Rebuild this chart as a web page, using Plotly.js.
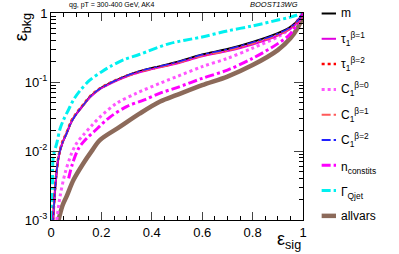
<!DOCTYPE html>
<html>
<head>
<meta charset="utf-8">
<script src="https://cdn.plot.ly/plotly-3.0.1.min.js"></script>
<style>html,body{margin:0;padding:0;background:#fff;}#chart{width:399px;height:254px;}</style>
</head>
<body>
<div id="chart"></div>
<script>
// Signal efficiency / background efficiency
const mX = [0.006, 0.009, 0.016, 0.029, 0.045, 0.062, 0.08, 0.102, 0.13, 0.155, 0.19, 0.234, 0.28, 0.327, 0.38, 0.433, 0.5, 0.6, 0.7, 0.8, 0.9, 0.95, 0.98, 1.0];
const mY = [0.0008, 0.0011, 0.0027, 0.0078, 0.013, 0.018, 0.026, 0.035, 0.047, 0.061, 0.078, 0.096, 0.115, 0.134, 0.153, 0.17, 0.195, 0.25, 0.30, 0.38, 0.51, 0.63, 0.78, 1.0];
const tau1b1Y = [0.0008, 0.0011, 0.0027, 0.0078, 0.013, 0.018, 0.026, 0.035, 0.047, 0.060, 0.077, 0.094, 0.112, 0.130, 0.147, 0.163, 0.185, 0.235, 0.28, 0.35, 0.47, 0.59, 0.75, 1.0];
const tau1b2Y = [0.0008, 0.0011, 0.0028, 0.008, 0.0135, 0.0185, 0.027, 0.036, 0.048, 0.062, 0.079, 0.097, 0.115, 0.133, 0.151, 0.167, 0.19, 0.243, 0.29, 0.365, 0.49, 0.61, 0.76, 1.0];
const c1b1Y = [0.0008, 0.0011, 0.0028, 0.008, 0.0133, 0.0183, 0.0265, 0.0355, 0.047, 0.061, 0.078, 0.096, 0.114, 0.132, 0.149, 0.165, 0.188, 0.24, 0.285, 0.36, 0.48, 0.60, 0.76, 1.0];
const c1b2Y = [0.0008, 0.0011, 0.0027, 0.0079, 0.013, 0.018, 0.026, 0.035, 0.047, 0.061, 0.078, 0.096, 0.115, 0.134, 0.153, 0.169, 0.194, 0.248, 0.297, 0.375, 0.50, 0.62, 0.77, 1.0];

const qjetX = [0.003, 0.006, 0.009, 0.023, 0.036, 0.049, 0.07, 0.089, 0.115, 0.155, 0.2, 0.234, 0.287, 0.35, 0.47, 0.6, 0.7, 0.8, 0.9, 0.95, 1.0];
const qjetY = [0.001, 0.003, 0.0083, 0.013, 0.021, 0.028, 0.04, 0.055, 0.075, 0.107, 0.14, 0.167, 0.209, 0.25, 0.36, 0.45, 0.55, 0.65, 0.79, 0.87, 1.0];

const c1b0X = [0.023, 0.036, 0.056, 0.082, 0.102, 0.128, 0.16, 0.194, 0.26, 0.34, 0.433, 0.5, 0.6, 0.7, 0.8, 0.9, 0.95, 1.0];
const c1b0Y = [0.001, 0.0022, 0.0048, 0.0093, 0.013, 0.017, 0.023, 0.031, 0.049, 0.069, 0.096, 0.12, 0.167, 0.22, 0.31, 0.45, 0.6, 1.0];

const nconX = [0.07, 0.085, 0.11, 0.14, 0.17, 0.234, 0.3, 0.37, 0.433, 0.5, 0.6, 0.7, 0.8, 0.9, 0.95, 1.0];
const nconY = [0.004, 0.0065, 0.011, 0.015, 0.019, 0.031, 0.044, 0.055, 0.069, 0.083, 0.113, 0.149, 0.22, 0.36, 0.5, 1.0];

const allX = [0.03, 0.045, 0.062, 0.089, 0.128, 0.16, 0.194, 0.274, 0.353, 0.433, 0.5, 0.6, 0.7, 0.8, 0.9, 0.95, 0.98, 1.0];
const allY = [0.001, 0.0016, 0.0022, 0.0038, 0.0066, 0.0098, 0.0144, 0.0225, 0.035, 0.052, 0.065, 0.09, 0.12, 0.176, 0.29, 0.43, 0.62, 0.9];

const names = ["m", "τ<sub>1</sub><sup>β=1</sup>", "τ<sub>1</sub><sup>β=2</sup>", "C<sub>1</sub><sup>β=0</sup>", "C<sub>1</sub><sup>β=1</sup>", "C<sub>1</sub><sup>β=2</sup>", "n<sub>constits</sub>", "Γ<sub>Qjet</sub>", "allvars"];

const xTickVals = [0, 0.2, 0.4, 0.6, 0.8, 1];
const xTickText = ["0", "0.2", "0.4", "0.6", "0.8", "1"];
const yTickVals = [0.001, 0.01, 0.1, 1];
const yTickText = ["10<sup>-3</sup>", "10<sup>-2</sup>", "10<sup>-1</sup>", "1"];
const yMinor = [];
[0.001, 0.01, 0.1].forEach(d => { for (let k = 2; k <= 9; k++) yMinor.push(k * d); });

// styles per legend index
const styles = [
  {color: '#000000', width: 2, dash: 'solid'},
  {color: '#e000e0', width: 2, dash: 'solid'},
  {color: '#ff0000', width: 2.5, dash: 'dot'},
  {color: '#ff55ff', width: 3, dash: 'dot'},
  {color: '#ff5a5a', width: 2, dash: 'dashdot'},
  {color: '#2020ff', width: 1.5, dash: 'dashdot'},
  {color: '#ff00ff', width: 3, dash: 'dashdot'},
  {color: '#00f0f0', width: 3, dash: 'dashdot'},
  {color: '#8c6a5a', width: 4.5, dash: 'solid'}
];

function tr(x, y, i) {
  const s = styles[i];
  return {x: x, y: y, type: 'scatter', mode: 'lines', name: names[i], showlegend: false,
          line: {color: s.color, width: s.width, dash: s.dash, shape: 'spline', smoothing: 0.9}, hoverinfo: 'skip'};
}

const data = [
  tr(allX, allY, 8),
  tr(qjetX, qjetY, 7),
  tr(nconX, nconY, 6),
  tr(c1b0X, c1b0Y, 3),
  tr(mX, mY, 0),
  tr(mX, tau1b1Y, 1),
  tr(mX, tau1b2Y, 2),
  tr(mX, c1b1Y, 4),
  tr(mX, c1b2Y, 5)
];

// Manual legend (layout decoration in paper coordinates)
const legTop = 0.9976, legStep = 0.1222;
const legX0 = 1.074, legX1 = 1.131, legTextX = 1.143;
const shapes = [];
const annotations = [];
names.forEach((n, i) => {
  const yy = legTop - i * legStep;
  const s = styles[i];
  shapes.push({type: 'line', xref: 'paper', yref: 'paper', x0: legX0, x1: legX1, y0: yy, y1: yy,
               line: {color: s.color, width: Math.max(s.width, 2), dash: s.dash}});
  const off = (i === 6 || i === 7) ? -0.012 : 0;
  annotations.push({text: n, xref: 'paper', yref: 'paper', x: legTextX, y: yy + off, xanchor: 'left', yanchor: 'middle',
                    showarrow: false, font: {size: 12}});
});

annotations.push(
  {text: 'ε<sub>bkg</sub>', xref: 'paper', yref: 'paper', x: -0.11, y: 1.01, xanchor: 'center', yanchor: 'top',
   textangle: -90, showarrow: false, font: {size: 18}},
  {text: 'ε<sub>sig</sub>', xref: 'paper', yref: 'paper', x: 1.0, y: -0.1, xanchor: 'right', yanchor: 'middle',
   showarrow: false, font: {size: 18}},
  {text: 'qg, pT = 300-400 GeV, AK4', xref: 'paper', yref: 'paper', x: 0.063, y: 1.039, xanchor: 'left', yanchor: 'middle',
   showarrow: false, font: {size: 7}},
  {text: '<i>BOOST13WG</i>', xref: 'paper', yref: 'paper', x: 0.988, y: 1.039, xanchor: 'right', yanchor: 'middle',
   showarrow: false, font: {size: 7.5}}
);

const font = 'Liberation Sans, Arial, Helvetica, sans-serif';
const layout = {
  width: 399, height: 254,
  margin: {l: 51, r: 96, t: 13, b: 34},
  paper_bgcolor: '#fff', plot_bgcolor: '#fff',
  font: {family: font, color: '#000', size: 12},
  showlegend: false,
  xaxis: {range: [0, 1], tickmode: 'array', tickvals: xTickVals, ticktext: xTickText,
          ticks: 'inside', ticklen: 8, tickwidth: 1, showline: true, linecolor: '#000', linewidth: 1,
          mirror: 'ticks', showgrid: false, zeroline: false, tickfont: {size: 13},
          minor: {dtick: 0.05, tick0: 0, ticks: 'inside', ticklen: 4, tickcolor: '#000', showgrid: false}},
  yaxis: {type: 'log', range: [-3, 0], tickmode: 'array', tickvals: yTickVals, ticktext: yTickText,
          ticks: 'inside', ticklen: 9, tickwidth: 1, showline: true, linecolor: '#000', linewidth: 1,
          mirror: 'ticks', showgrid: false, zeroline: false, tickfont: {size: 13},
          minor: {tickmode: 'array', tickvals: yMinor, ticks: 'inside', ticklen: 4.5, tickcolor: '#000', showgrid: false}},
  shapes: shapes,
  annotations: annotations
};

Plotly.newPlot('chart', data, layout, {staticPlot: true, displayModeBar: false});
</script>
</body>
</html>
